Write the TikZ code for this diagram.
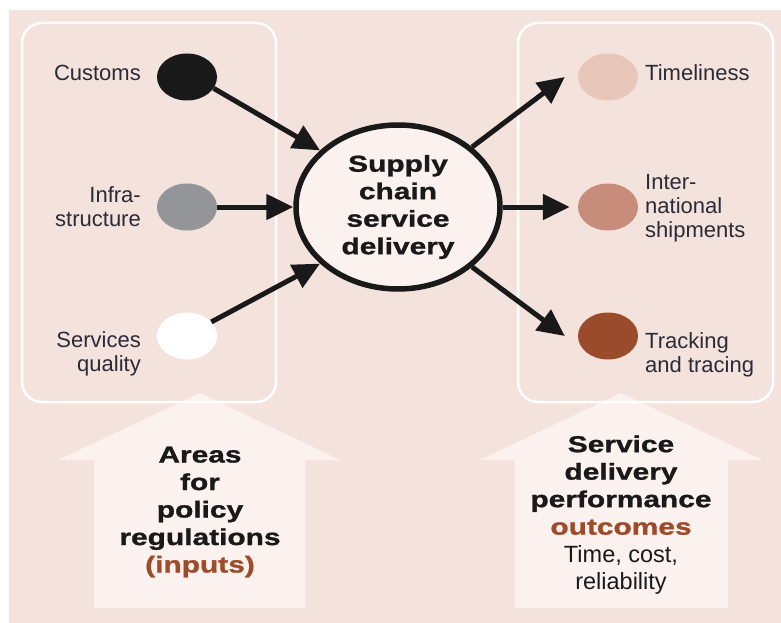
\documentclass[tikz,border=0pt]{standalone}
\usepackage{fontspec}
\setmainfont{Liberation Sans}
\newfontfamily\boldwide[FakeStretch=1.3,FakeBold=1.2]{Liberation Sans}
\usetikzlibrary{shapes.geometric,arrows.meta}
\definecolor{bgpink}{HTML}{F4E2DC}
\definecolor{palepink}{HTML}{FBF2F0}
\definecolor{txt}{HTML}{2B2B38}
\definecolor{rust}{HTML}{9E4B2A}
\definecolor{dotgray}{HTML}{939598}
\definecolor{dotlight}{HTML}{E8C6BA}
\definecolor{dotmid}{HTML}{C88D7A}
\definecolor{dotdark}{HTML}{9A4B2C}
\tikzset{
  dot/.style={ellipse, minimum width=60pt, minimum height=47pt, inner sep=0pt},
  lbl/.style={text=txt, font=\fontsize{22}{24}\selectfont, inner sep=0pt},
  bigtxt/.style={text=black!90, font=\boldwide\bfseries\fontsize{23}{27.5}\selectfont, align=center, inner sep=0pt},
  arr/.style={line width=5pt, draw=black!90, -{Triangle[length=27pt,width=25pt]}},
  panel/.style={draw=white, line width=2.5pt, rounded corners=20pt},
  bigarrow/.style={fill=palepink}
}
\begin{document}
\begin{tikzpicture}[x=1pt,y=-1pt]
\useasboundingbox (0,0) rectangle (781,623);
\fill[bgpink] (9,10) rectangle (781,623);
% big arrows
\fill[bigarrow] (200,393) -- (340,460) -- (305,460) -- (305,608) -- (94,608) -- (94,460) -- (58,460) -- cycle;
\fill[bigarrow] (621,393) -- (762,460) -- (728,460) -- (728,608) -- (515,608) -- (515,460) -- (480,460) -- cycle;
% panels
\draw[panel] (22,23) rectangle (276,402);
\draw[panel] (518,23) rectangle (773,402);
% dots
\node[dot, fill=black!90] (customs) at (187,77) {};
\node[dot, fill=dotgray] (infra) at (187,207) {};
\node[dot, fill=white] (quality) at (187,336) {};
\node[dot, fill=dotlight] (time) at (608,77) {};
\node[dot, fill=dotmid] (inter) at (608,207) {};
\node[dot, fill=dotdark] (track) at (608,336) {};
% hub
\node[ellipse, minimum width=204pt, minimum height=164pt, line width=5.5pt, draw=black!90, fill=palepink, inner sep=0pt] (hub) at (398,207) {};
\node[bigtxt] (hubtxt) at (398,207) {Supply\\chain\\service\\delivery};
% connectors
\draw[arr] (customs.-23) -- (hub.144);
\draw[arr] (infra.east) -- (hub.west);
\draw[arr] (quality.30) -- (hub.216);
\draw[arr] (hub.39) -- ([xshift=-13pt]time.west);
\draw[arr] (hub.east) -- ([xshift=-8pt]inter.west);
\draw[arr] (hub.-39) -- ([xshift=-13pt]track.west);
% labels
\node[lbl, anchor=east] (lcustoms) at (141,73) {Customs};
\node[lbl, anchor=east, align=right] (linfra) at (141,207) {Infra-\\structure};
\node[lbl, anchor=east, align=right] (lquality) at (141,354) {Services\\quality};
\node[lbl, anchor=west] (ltime) at (645,73) {Timeliness};
\node[lbl, anchor=west, align=left] (linter) at (645,208) {Inter-\\national\\shipments};
\node[lbl, anchor=west, align=left] (ltrack) at (645,355) {Tracking\\and tracing};
% arrow texts
\node[bigtxt] (areas) at (200,512) {Areas\\for\\policy\\regulations\\{\color{rust}(inputs)}};
\node[bigtxt] (outc) at (621,515) {Service\\delivery\\performance\\{\color{rust}outcomes}\\{\normalfont\fontsize{23.5}{27.5}\selectfont Time, cost,}\\{\normalfont\fontsize{23.5}{27.5}\selectfont reliability}};
\end{tikzpicture}
\end{document}
